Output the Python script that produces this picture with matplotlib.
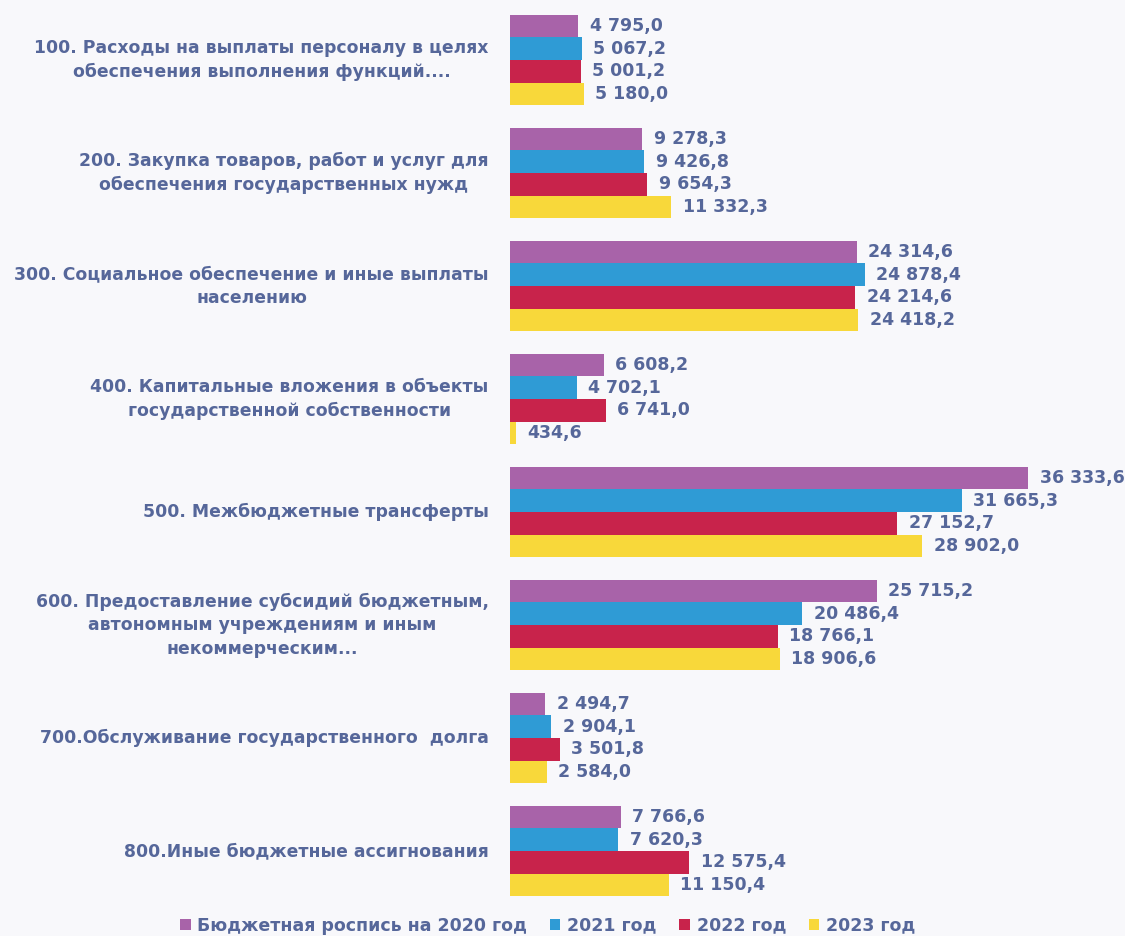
import numpy as np
import matplotlib
matplotlib.use("Agg")
import matplotlib.pyplot as plt

# data
categories = [
    "100. Расходы на выплаты персоналу в целях\nобеспечения выполнения функций....",
    "200. Закупка товаров, работ и услуг для\nобеспечения государственных нужд",
    "300. Социальное обеспечение и иные выплаты\nнаселению",
    "400. Капитальные вложения в объекты\nгосударственной собственности",
    "500. Межбюджетные трансферты",
    "600. Предоставление субсидий бюджетным,\nавтономным учреждениям и иным\nнекоммерческим...",
    "700.Обслуживание государственного  долга",
    "800.Иные бюджетные ассигнования",
]
series_names = ["Бюджетная роспись на 2020 год", "2021 год", "2022 год", "2023 год"]
v2020 = [4795.0, 9278.3, 24314.6, 6608.2, 36333.6, 25715.2, 2494.7, 7766.6]
v2021 = [5067.2, 9426.8, 24878.4, 4702.1, 31665.3, 20486.4, 2904.1, 7620.3]
v2022 = [5001.2, 9654.3, 24214.6, 6741.0, 27152.7, 18766.1, 3501.8, 12575.4]
v2023 = [5180.0, 11332.3, 24418.2, 434.6, 28902.0, 18906.6, 2584.0, 11150.4]
series = [v2020, v2021, v2022, v2023]
colors = ["#a863a9", "#2f9bd5", "#c8234b", "#f8d83a"]

txt = "#56679a"
bg = "#f8f8fb"

def fmt(v):
    s = f"{v:,.1f}"
    return s.replace(",", " ").replace(".", ",")

fig = plt.figure(figsize=(11.25, 9.36), dpi=100, facecolor=bg)
ax = fig.add_axes([0.453, 0.0304, 0.547, 0.9658], facecolor=bg)

y = np.arange(len(categories))
h = 0.2
for i, (vals, c, name) in enumerate(zip(series, colors, series_names)):
    pos = y - 0.3 + i * h
    ax.barh(pos, vals, height=h, color=c, label=name)
    for p, v in zip(pos, vals):
        ax.text(v + 800, p, fmt(v), va="center", ha="left", fontsize=12.5,
                fontweight="bold", color=txt)

ax.set_xlim(0, 43100)
ax.set_ylim(len(categories) - 0.5, -0.5)
ax.set_xticks([])
ax.set_yticks([])
for s in ax.spines.values():
    s.set_visible(False)

for yi, cat in zip(y, categories):
    ax.text(-0.034, yi, cat, transform=ax.get_yaxis_transform(), ha="right",
            va="center", multialignment="center", fontsize=12.4,
            fontweight="bold", color=txt, linespacing=1.4)

fig.legend(loc="center", bbox_to_anchor=(0.487, 0.011), ncol=4, frameon=False,
           handlelength=0.6, handleheight=0.6, columnspacing=1.3,
           handletextpad=0.4, labelcolor=txt, prop={"weight": "bold", "size": 12.5})

fig.savefig("out.png", dpi=100, facecolor=bg)
